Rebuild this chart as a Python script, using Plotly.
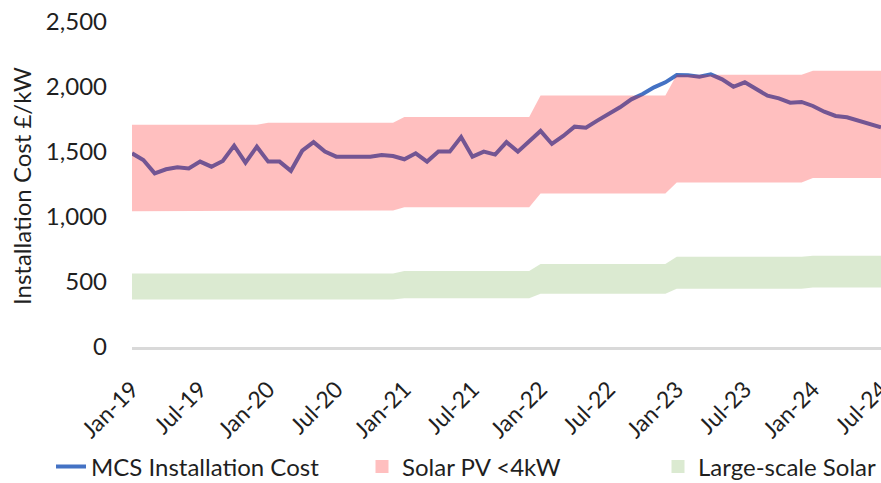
import plotly.graph_objects as go

# ---- data ----
years = [19, 20, 21, 22, 23, 24]
month_names = ["Jan", "Feb", "Mar", "Apr", "May", "Jun",
               "Jul", "Aug", "Sep", "Oct", "Nov", "Dec"]
months = [f"{m}-{y}" for y in years for m in month_names][:67]

mcs_cost = [
    1490, 1438, 1336, 1367, 1382, 1374, 1426, 1387, 1431, 1549, 1418, 1541,
    1426, 1426, 1355, 1510, 1576, 1503, 1464, 1464, 1464, 1464, 1477, 1469,
    1444, 1490, 1426, 1503, 1503, 1615, 1464, 1503, 1480, 1576, 1503, 1579,
    1662, 1562, 1623, 1695, 1687, 1741, 1792, 1844, 1905, 1946, 1997, 2036,
    2092, 2090, 2079, 2097, 2059, 2002, 2036, 1982, 1933, 1913, 1879, 1885,
    1854, 1810, 1777, 1767, 1741, 1708, 1690,
]

# yearly band limits (2019..2024)
pv_low_yearly = [1045, 1050, 1075, 1180, 1265, 1300]
pv_high_yearly = [1710, 1725, 1770, 1935, 2095, 2125]
ls_low_yearly = [365, 365, 375, 410, 448, 458]
ls_high_yearly = [565, 565, 585, 638, 695, 702]

def monthly(vals):
    out = []
    for v in vals:
        out += [v] * 12
    return out[:67]

pv_low = monthly(pv_low_yearly)
pv_high = monthly(pv_high_yearly)
ls_low = monthly(ls_low_yearly)
ls_high = monthly(ls_high_yearly)

tick_labels = months[::6]
y_ticks = [0, 500, 1000, 1500, 2000, 2500]

FONT = "Lato"
TXT = "#1f1f1f"
PINK = "rgba(255,0,0,0.25)"
GREEN = "rgba(112,173,71,0.25)"
BLUE = "#4472C4"

fig = go.Figure()

# line (drawn first so the translucent bands sit on top of it)
fig.add_trace(go.Scatter(x=months, y=mcs_cost, mode="lines",
                         line=dict(color=BLUE, width=4),
                         name="MCS Installation Cost", legend="legend"))

# Solar PV band
fig.add_trace(go.Scatter(x=months, y=pv_low, mode="lines",
                         line=dict(width=0), showlegend=False, hoverinfo="skip"))
fig.add_trace(go.Scatter(x=months, y=pv_high, mode="lines", fill="tonexty",
                         fillcolor=PINK, line=dict(width=0), showlegend=False))
# Large-scale band
fig.add_trace(go.Scatter(x=months, y=ls_low, mode="lines",
                         line=dict(width=0), showlegend=False, hoverinfo="skip"))
fig.add_trace(go.Scatter(x=months, y=ls_high, mode="lines", fill="tonexty",
                         fillcolor=GREEN, line=dict(width=0), showlegend=False))

# legend entries for the bands
fig.add_trace(go.Scatter(x=[None], y=[None], mode="markers",
                         marker=dict(symbol="square", size=13, color=PINK),
                         name="Solar PV <4kW", legend="legend2"))
fig.add_trace(go.Scatter(x=[None], y=[None], mode="markers",
                         marker=dict(symbol="square", size=13, color=GREEN),
                         name="Large-scale Solar", legend="legend3"))

PL, PR, PT, PB = 132, 0, 22, 136
W, H = 881, 483
pw = W - PL - PR
ph = H - PT - PB

def px(xpix):
    return (xpix - PL) / pw

def py(ypix):
    return (H - PB - ypix) / ph

def cx(xpix):
    return xpix / W

def cy(ypix):
    return 1 - ypix / H

leg_common = dict(orientation="h", xanchor="left", yanchor="middle",
                  xref="container", yref="container",
                  bgcolor="rgba(0,0,0,0)", font=dict(family=FONT, size=24, color=TXT),
                  itemwidth=30)

fig.update_layout(
    width=W, height=H,
    margin=dict(l=PL, r=PR, t=PT, b=PB, autoexpand=False),
    paper_bgcolor="white", plot_bgcolor="white",
    font=dict(family=FONT, size=22, color=TXT),
    legend=dict(x=cx(51), y=cy(467), **leg_common),
    legend2=dict(x=cx(362), y=cy(467), **leg_common),
    legend3=dict(x=cx(658), y=cy(467), **leg_common),
    xaxis=dict(type="category", categoryorder="array", categoryarray=months,
               range=[0, 66], tickmode="array", tickvals=tick_labels,
               ticktext=tick_labels, tickangle=-45, showgrid=False,
               showline=True, linecolor="#D9D9D9", linewidth=2.5,
               ticks="", ticklabelstandoff=17,
               tickfont=dict(family=FONT, size=23, color=TXT),
               zeroline=False, fixedrange=True, automargin=False),
    yaxis=dict(range=[0, 2500], tickvals=y_ticks, tickformat=",",
               showgrid=False, zeroline=False, showline=False, ticks="",
               ticklabelstandoff=24, automargin=False,
               tickfont=dict(family=FONT, size=24, color=TXT), fixedrange=True),
    annotations=[dict(text="Installation Cost £/kW", textangle=-90,
                      xref="paper", yref="paper", x=px(21), y=py(186),
                      xanchor="center", yanchor="middle", showarrow=False,
                      font=dict(family=FONT, size=24, color=TXT))],
    showlegend=True,
)

fig.write_html("out.html", config={"displayModeBar": False},
               post_script="document.body.style.margin='0';")
